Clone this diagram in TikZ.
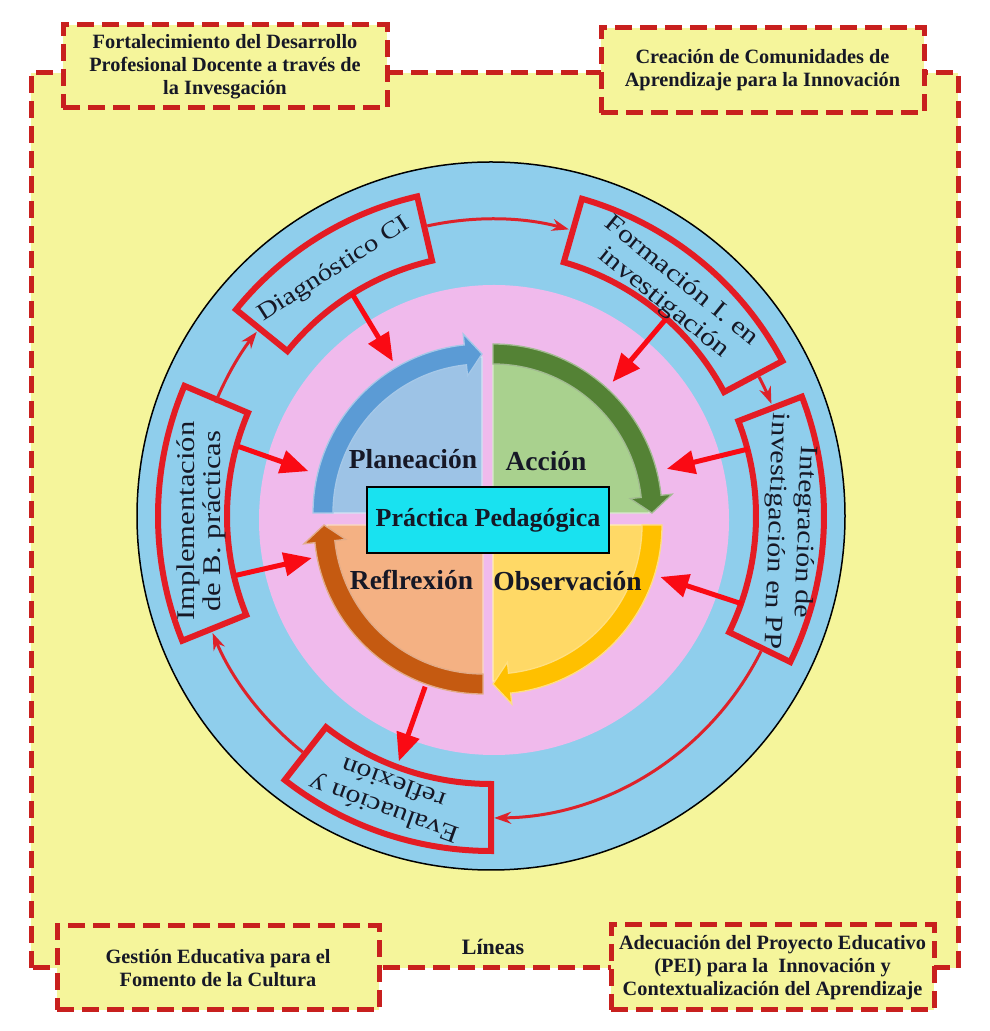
\documentclass[tikz,border=0pt]{standalone}
\usepackage{fontspec}
\setmainfont{Liberation Serif}
\newfontfamily\ringfont[FakeStretch=1.2]{Liberation Serif}
\usetikzlibrary{calc,arrows.meta}

\definecolor{bgyellow}{RGB}{245,245,155}
\definecolor{dashred}{RGB}{200,32,30}
\definecolor{ringblue}{RGB}{143,206,236}
\definecolor{pinkring}{RGB}{240,186,236}
\definecolor{boxred}{RGB}{228,28,36}
\definecolor{arrred}{RGB}{250,10,20}
\definecolor{thinred}{RGB}{222,34,42}
\definecolor{qblue}{RGB}{157,195,230}
\definecolor{qbluedk}{RGB}{91,155,213}
\definecolor{qgreen}{RGB}{169,209,142}
\definecolor{qgreendk}{RGB}{84,130,53}
\definecolor{qorange}{RGB}{244,177,131}
\definecolor{qorangedk}{RGB}{197,90,17}
\definecolor{qyellow}{RGB}{255,217,102}
\definecolor{qyellowdk}{RGB}{255,192,0}
\definecolor{ppcyan}{RGB}{25,226,240}
\definecolor{txtdark}{RGB}{22,24,38}

% annular sector box: a1, a2, r-in, r-out, style
\newcommand{\ringsector}[5]{%
  \draw[#5] (#1:#3) arc[start angle=#1, end angle=#2, radius=#3]
    -- (#2:#4) arc[start angle=#2, end angle=#1, radius=#4] -- cycle;}
% quarter sector: corner, start angle, end angle, style
\newcommand{\qsector}[4]{%
  \filldraw[#4] (#1) -- ($(#1)+(#2:156)$) arc[start angle=#2, end angle=#3, radius=156] -- cycle;}
% curved band arrow (clockwise): corner, start angle, end angle (head), style
\newcommand{\qband}[4]{%
  \filldraw[#4] ($(#1)+(#2:149)$) arc[start angle=#2, end angle={#3+6}, radius=149]
    -- ($(#1)+({#3+6}:138)$) -- ($(#1)+(#3:159)$) -- ($(#1)+({#3+6}:180)$)
    -- ($(#1)+({#3+6}:169)$) arc[start angle={#3+6}, end angle=#2, radius=169] -- cycle;}

\begin{document}
\begin{tikzpicture}[x=1pt,y=1pt,
  dashframe/.style={draw=dashred, line width=5pt, dash pattern=on 17pt off 8pt, fill=bgyellow},
  dashbox/.style={dashframe, align=center, inner sep=0pt, text=txtdark,
    font=\bfseries\fontsize{20.3}{23}\selectfont},
  ringbox/.style={draw=boxred, line width=6pt, line join=miter},
  ringtxt/.style={align=center, inner sep=0pt, text=txtdark},
  qlabel/.style={anchor=base, inner sep=0pt, text=txtdark, font=\bfseries\fontsize{27.5}{30}\selectfont},
  bigarrow/.style={draw=arrred, line width=5pt, -{Triangle[length=28pt,width=23pt]}},
  thinarrow/.style={draw=thinred, line width=3pt, -{Stealth[length=17pt,width=12pt]}}]

\useasboundingbox (0,0) rectangle (989,1031);
\fill[white] (0,0) rectangle (989,1031);

% big frame
\path[dashframe] (31,63) rectangle (958,958);

% corner boxes
\node[dashbox, minimum width=324, minimum height=83] (l1) at (225,964.5)
  {Fortalecimiento del Desarrollo\\Profesional Docente a través de\\la Invesgación};
\node[dashbox, minimum width=323, minimum height=85] (l2) at (762.5,960.5)
  {Creación de Comunidades de\\Aprendizaje para la Innovación};
\node[dashbox, minimum width=322, minimum height=84] (l3) at (218,63)
  {Gestión Educativa para el\\Fomento de la Cultura};
\node[dashbox, minimum width=323, minimum height=85] (l4) at (772.5,63.5)
  {Adecuación del Proyecto Educativo\\(PEI) para la\ \ Innovación y\\Contextualización del Aprendizaje};
\node[inner sep=0pt, text=txtdark, font=\bfseries\fontsize{22}{24}\selectfont] (lin) at (493,84) {Líneas};

\begin{scope}[shift={(491,515)}]
  % rings
  \draw[fill=ringblue, line width=1.5pt] (0,0) circle[radius=354];
  \fill[pinkring] (3,-4) circle[radius=235];

  % quadrant corners
  \coordinate (PB) at (-9,3);
  \coordinate (PG) at (2,3);
  \coordinate (PO) at (-8,-9);
  \coordinate (PY) at (2,-9);

  \qsector{PB}{180}{90}{fill=qblue, draw=white!55!qblue, line width=1.2pt}
  \qsector{PG}{90}{0}{fill=qgreen, draw=white!55!qgreen, line width=1.2pt}
  \qsector{PY}{0}{-90}{fill=qyellow, draw=white!55!qyellow, line width=1.2pt}
  \qsector{PO}{270}{180}{fill=qorange, draw=white!55!qorange, line width=1.2pt}

  \qband{PB}{180}{90}{fill=qbluedk, draw=qbluedk!55!white, line width=1.3pt}
  \qband{PG}{90}{0}{fill=qgreendk, draw=qgreendk!55!white, line width=1.3pt}
  \qband{PY}{0}{-90}{fill=qyellowdk, draw=qyellowdk!50!white, line width=1.3pt}
  \qband{PO}{270}{180}{fill=qorangedk, draw=qorangedk!50!white, line width=1.3pt}

  % quadrant labels
  \node[qlabel] (plan) at (-78,47) {Planeación};
  \node[qlabel] (acc) at (55,45) {Acción};
  \node[qlabel] (refl) at (-79.5,-74) {Reflrexión};
  \node[qlabel] (obs) at (76.5,-75) {Observación};

  \node[draw=black, line width=1.2pt, fill=ppcyan, minimum width=242, minimum height=66,
        inner sep=0pt, text=txtdark, font=\bfseries\fontsize{26}{28}\selectfont] (pp) at (-3,-4)
        {Práctica Pedagógica};

  % ring boxes
  \ringsector{103}{141}{262}{328}{ringbox}
  \ringsector{28}{74}{264}{330}{ringbox}
  \ringsector{-26}{21}{265}{333}{ringbox}
  \ringsector{232}{270}{268}{335}{ringbox}
  \ringsector{157}{202}{264}{333}{ringbox}

  \node[ringtxt, rotate=32.5, font={\ringfont\fontsize{24}{26}\selectfont}] (diag) at (122.5:292)
    {Diagnóstico CI};
  \node[ringtxt, rotate=-39, font={\ringfont\fontsize{25}{28}\selectfont}] (form) at (51:288)
    {Formación I. en\\investigación};
  \node[ringtxt, rotate=-92, font={\ringfont\fontsize{25}{29}\selectfont}] (integ) at (-3:299)
    {Integración de\\investigación en PP};
  \node[ringtxt, rotate=160, font={\ringfont\fontsize{25}{28}\selectfont}] (eval) at (250:299)
    {Evaluación y\\reflexión};
  \node[ringtxt, rotate=90, font={\ringfont\fontsize{25.5}{26}\selectfont}] (impl) at (181:290)
    {Implementación\\de B. prácticas};

  % cycle arcs
  \coordinate (da) at (102.4:297);
  \coordinate (fb) at (27.4:302);
  \coordinate (ib) at (-26.6:302);
  \coordinate (eb) at (231.4:302);
  \coordinate (ia) at (157.6:298);
  \draw[thinarrow] (da) arc[start angle=102.4, end angle=74.8, radius=297];
  \draw[thinarrow] (fb) arc[start angle=27.4, end angle=21.8, radius=302];
  \draw[thinarrow] (ib) arc[start angle=-26.6, end angle=-89.4, radius=302];
  \draw[thinarrow] (eb) arc[start angle=231.4, end angle=202.8, radius=302];
  \draw[thinarrow] (ia) arc[start angle=157.6, end angle=141.8, radius=298];

  % thick arrows towards the practice
  \coordinate (dg1) at (122:262);   \coordinate (dg2) at (122.4:183);
  \coordinate (fm1) at (48.4:263);  \coordinate (fm2) at (47.8:181);
  \coordinate (ig1) at (14.6:266);  \coordinate (ig2) at (15:182);
  \coordinate (ig3) at (-19.3:266); \coordinate (ig4) at (-19.8:180);
  \coordinate (im1) at (164.6:262); \coordinate (im2) at (166.2:188);
  \coordinate (im3) at (193.1:262); \coordinate (im4) at (193.2:184);
  \coordinate (rf1) at (248.9:183); \coordinate (rf2) at (249.4:262);
  \draw[bigarrow] (dg1) -- (dg2);
  \draw[bigarrow] (fm1) -- (fm2);
  \draw[bigarrow] (ig1) -- (ig2);
  \draw[bigarrow] (ig3) -- (ig4);
  \draw[bigarrow] (im1) -- (im2);
  \draw[bigarrow] (im3) -- (im4);
  \draw[bigarrow] (rf1) -- (rf2);
\end{scope}
\end{tikzpicture}
\end{document}
